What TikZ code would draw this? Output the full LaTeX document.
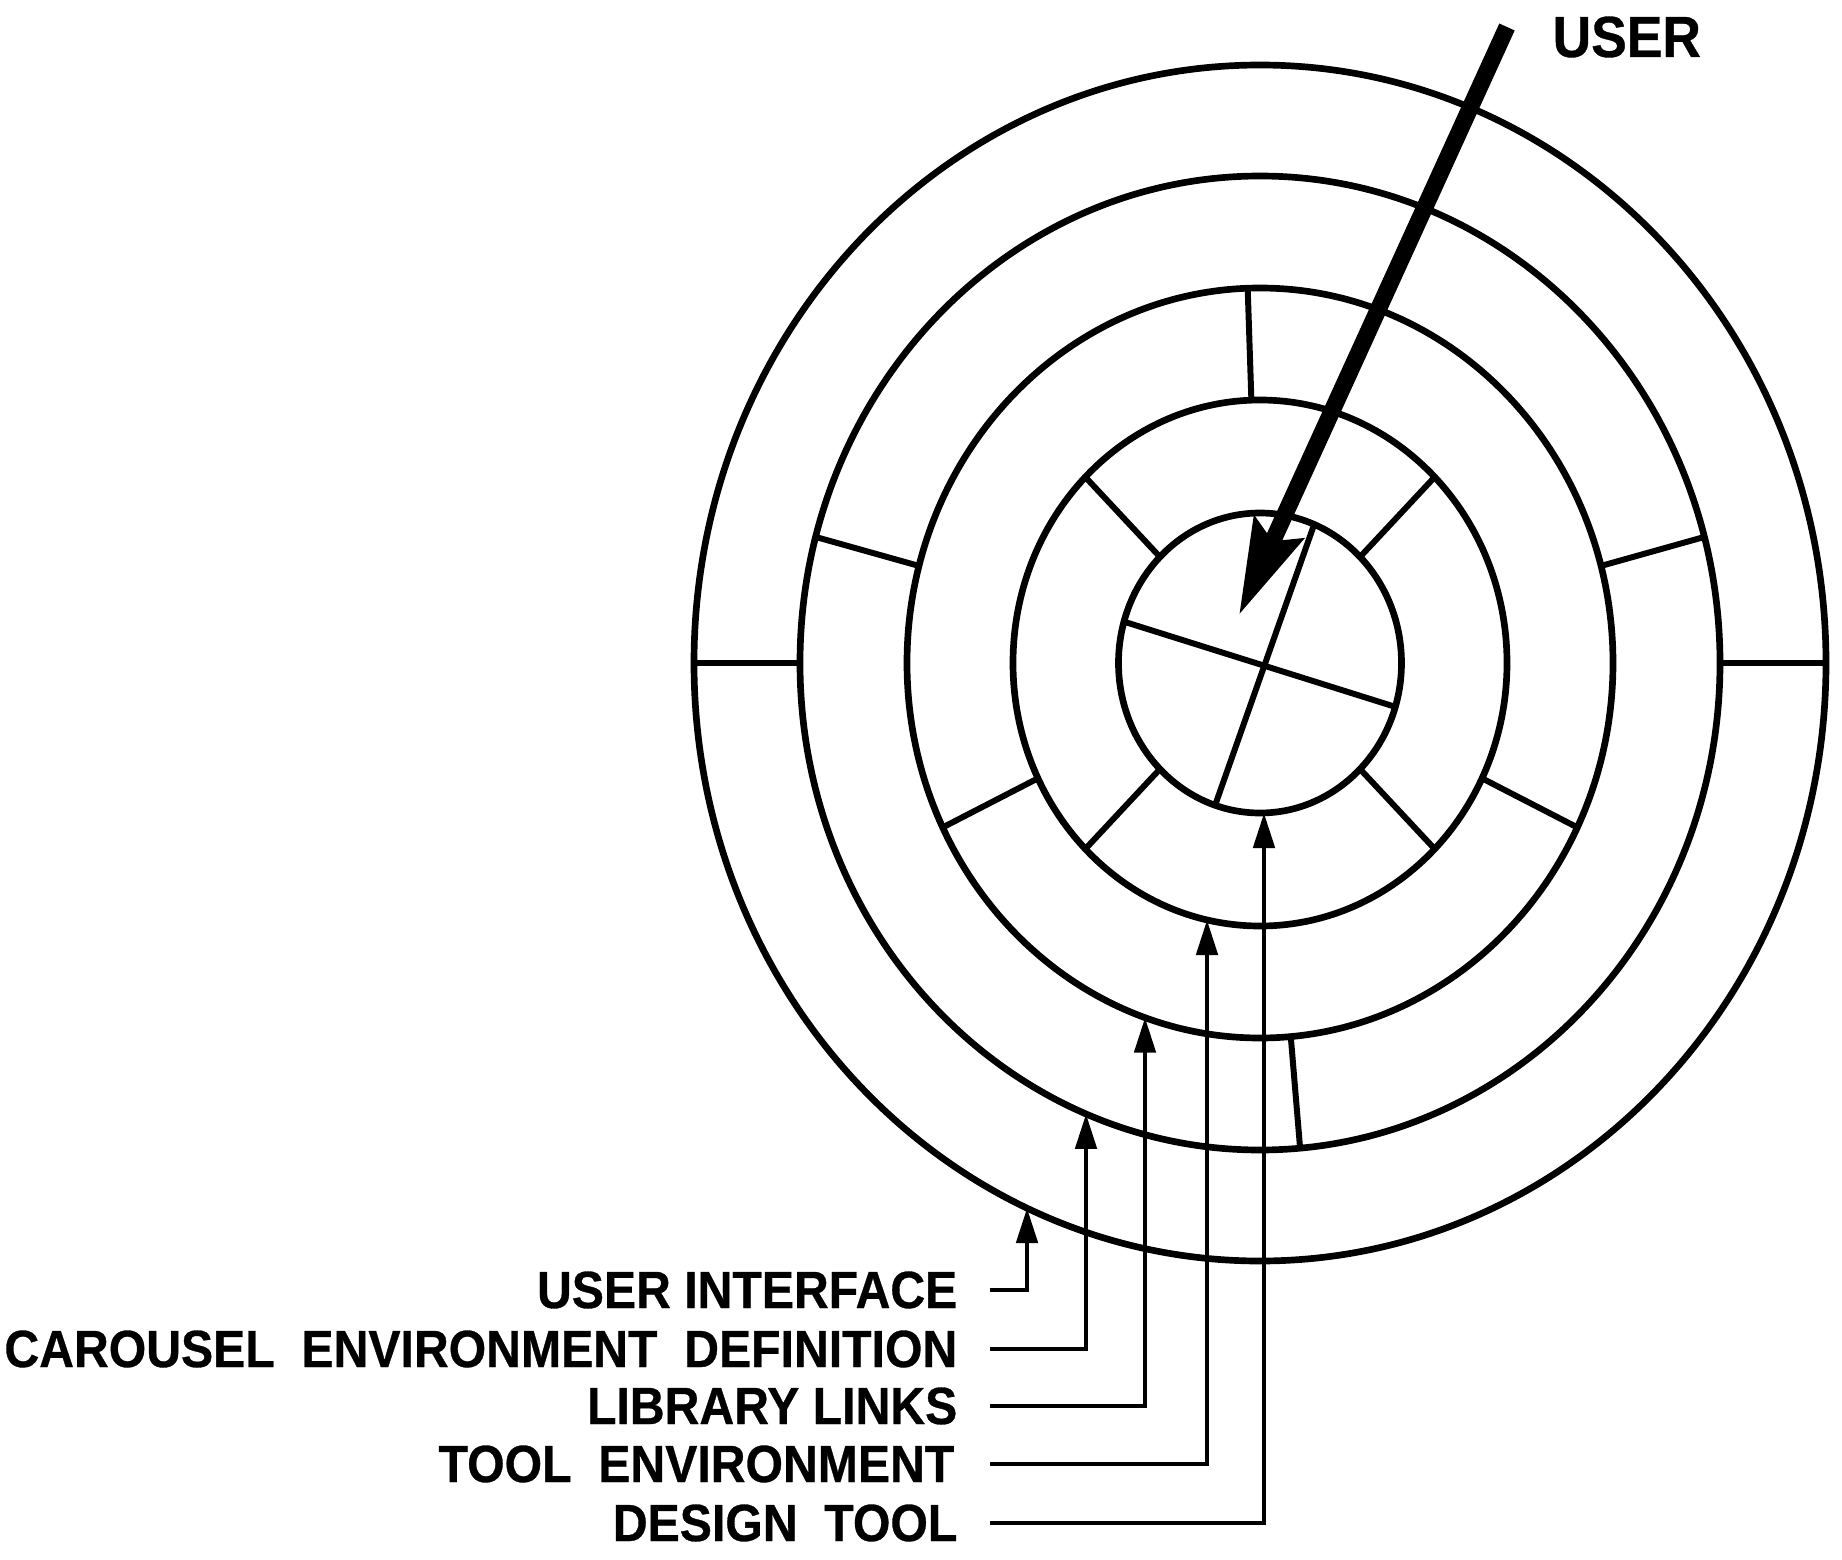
\documentclass[tikz,border=0pt]{standalone}
\usepackage{fontspec}
\setmainfont{Liberation Sans}[FakeStretch=0.92, FakeBold=0.6]
\usetikzlibrary{arrows.meta,calc}

\tikzset{
  ring/.style={line width=1.9pt},
  spoke/.style={line width=1.7pt},
  lead/.style={line width=1.35pt, -{Triangle[length=10pt,width=6pt]}},
  lbl/.style={anchor=east, inner sep=0pt, font=\fontsize{14.9pt}{17pt}\selectfont\bfseries},
}

\begin{document}
\begin{tikzpicture}[x=0.1mm, y=0.1mm]
  \useasboundingbox (0,0) rectangle (1842,-1560);
  \coordinate (c) at (1260,-663);

  % the five rings, a little taller than wide
  \draw[ring] (c) ellipse [x radius=566, y radius=598];
  \draw[ring] (c) ellipse [x radius=460, y radius=487];
  \draw[ring] (c) ellipse [x radius=353, y radius=375];
  \draw[ring] (c) ellipse [x radius=247, y radius=263];
  \draw[ring] (c) ellipse [x radius=141.5, y radius=150];

  % dividers in each band
  \foreach \a in {0,180}
    \draw[spoke] ($(c)+(\a:566 and 598)$) -- ($(c)+(\a:460 and 487)$);
  \foreach \a in {15,165,-85}
    \draw[spoke] ($(c)+(\a:460 and 487)$) -- ($(c)+(\a:353 and 375)$);
  \foreach \a in {92,206,334}
    \draw[spoke] ($(c)+(\a:353 and 375)$) -- ($(c)+(\a:247 and 263)$);
  \foreach \a in {45,135,225,315}
    \draw[spoke] ($(c)+(\a:247 and 263)$) -- ($(c)+(\a:141.5 and 150)$);
  % core cut in four
  \draw[spoke] ($(c)+(164:141.5 and 150)$) -- ($(c)+(-17:141.5 and 150)$);
  \draw[spoke] ($(c)+(67.5:141.5 and 150)$) -- ($(c)+(251.5:141.5 and 150)$);

  % user coming in
  \node[anchor=west, inner sep=0pt, font=\fontsize{16.5pt}{19pt}\selectfont\bfseries] (user) at (1552,-37) {USER};
  \coordinate (userTail) at (1507,-27);
  \coordinate (userTip) at (1239,-615);
  \draw[line width=4.8pt, -{Stealth[length=27pt,width=15pt,inset=4pt]}] (userTail) -- (userTip);

  % labels
  \node[lbl] (ui) at (958,-1290) {USER INTERFACE};
  \node[lbl] (ce) at (958,-1349) {CAROUSEL\ \ ENVIRONMENT\ \ DEFINITION};
  \node[lbl] (ll) at (958,-1406) {LIBRARY LINKS};
  \node[lbl] (te) at (955,-1464) {TOOL\ \ ENVIRONMENT};
  \node[lbl] (dt) at (958,-1523) {DESIGN\ \ TOOL};

  % where each lead meets its ring
  \coordinate (uiTip) at ($(c)+({-acos(-233/566)}:566 and 598)$);
  \coordinate (ceTip) at ($(c)+({-acos(-174/460)}:460 and 487)$);
  \coordinate (llTip) at ($(c)+({-acos(-115/353)}:353 and 375)$);
  \coordinate (teTip) at ($(c)+({-acos(-53/247)}:247 and 263)$);
  \coordinate (dtTip) at ($(c)+({-acos(4/141.5)}:141.5 and 150)$);

  \draw[lead] ([xshift=3.2mm]ui.east) -| (uiTip);
  \draw[lead] ([xshift=3.2mm]ce.east) -| (ceTip);
  \draw[lead] ([xshift=3.2mm]ll.east) -| (llTip);
  \draw[lead] ([xshift=3.5mm]te.east) -| (teTip);
  \draw[lead] ([xshift=3.2mm]dt.east) -| (dtTip);
\end{tikzpicture}
\end{document}
